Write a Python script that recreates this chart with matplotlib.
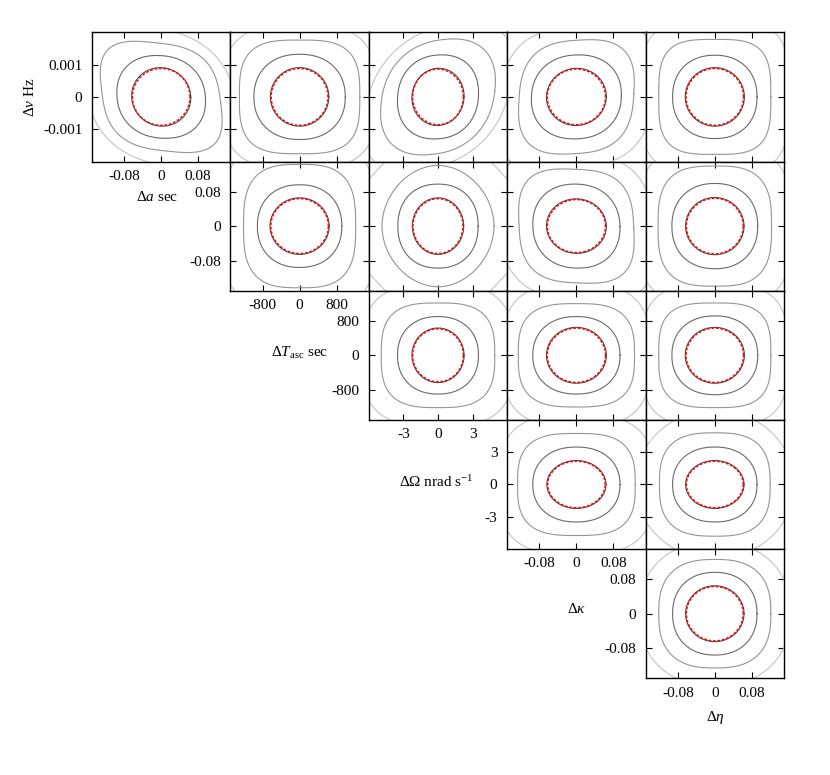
import numpy as np
import matplotlib
matplotlib.use("Agg")
import matplotlib.pyplot as plt

plt.rcParams['font.family'] = ['Liberation Serif', 'DejaVu Serif']
plt.rcParams['font.size'] = 11
plt.rcParams['mathtext.fontset'] = 'custom'
plt.rcParams['mathtext.rm'] = 'Liberation Serif'
plt.rcParams['mathtext.it'] = 'Liberation Serif:italic'
plt.rcParams['axes.unicode_minus'] = False

# parameters: nu, a, T_asc, Omega, kappa, eta
axis_labels = [r'$\Delta\nu$ Hz', r'$\Delta a$ sec', r'$\Delta T_{\rm asc}$ sec',
               r'$\Delta\Omega$ nrad s$^{-1}$', r'$\Delta\kappa$', r'$\Delta\eta$']
half_range = [0.002, 0.15, 1500, 6, 0.15, 0.15]
tick_vals = [[-0.001, 0, 0.001], [-0.08, 0, 0.08], [-800, 0, 800],
             [-3, 0, 3], [-0.08, 0, 0.08], [-0.08, 0, 0.08]]
tick_text = [['-0.001', '0', '0.001'], ['-0.08', '0', '0.08'], ['-800', '0', '800'],
             ['-3', '0', '3'], ['-0.08', '0', '0.08'], ['-0.08', '0', '0.08']]

# panel (row, col): y = parameter row, x = parameter col+1
panels = [(0, 0), (0, 1), (0, 2), (0, 3), (0, 4),
          (1, 1), (1, 2), (1, 3), (1, 4),
          (2, 2), (2, 3), (2, 4),
          (3, 3), (3, 4),
          (4, 4)]

# contour half-widths / half-heights, as fraction of the axis half range
red_w   = [0.415, 0.41, 0.366, 0.42, 0.415, 0.415, 0.36, 0.42, 0.41, 0.366, 0.42, 0.415, 0.415, 0.41, 0.41]
red_h   = [0.44, 0.44, 0.43, 0.43, 0.44, 0.425, 0.425, 0.41, 0.43, 0.41, 0.42, 0.42, 0.36, 0.36, 0.42]
ring2_w = [0.64, 0.66, 0.585, 0.65, 0.61, 0.61, 0.58, 0.63, 0.62, 0.585, 0.63, 0.62, 0.63, 0.61, 0.61]
ring2_h = [0.64, 0.66, 0.65, 0.65, 0.645, 0.64, 0.65, 0.65, 0.66, 0.60, 0.60, 0.61, 0.58, 0.58, 0.64]
ring3_w = [0.86, 0.87, 0.82, 0.83, 0.81, 0.81, 0.81, 0.83, 0.82, 0.82, 0.84, 0.81, 0.85, 0.80, 0.81]
ring3_h = [0.84, 0.88, 0.89, 0.88, 0.89, 0.955, 0.94, 0.88, 0.93, 0.81, 0.80, 0.81, 0.79, 0.80, 0.84]
ring3_p = [3.0, 3.2, 2.3, 2.8, 3.4, 3.0, 1.9, 3.0, 3.0, 3.0, 3.0, 3.2, 3.0, 2.8, 2.6]
ring4_w = [1.12, 1.12, 1.05, 1.12, 1.08, 1.12, 1.45, 1.12, 1.12, 1.1, 1.07, 1.06, 1.12, 1.15, 1.1]
ring4_h = [1.1, 1.12, 1.12, 1.12, 1.2, 1.35, 1.6, 1.15, 1.25, 1.1, 1.1, 1.1, 1.08, 1.15, 1.12]
ring4_p = [3.0, 3.0, 2.4, 3.0, 3.4, 3.0, 1.25, 3.0, 3.0, 3.0, 3.0, 3.2, 3.0, 2.0, 2.2]
tilt    = [-0.16, 0.0, 0.15, 0.08, 0.0, 0.0, 0.0, -0.06, 0.0, 0.0, 0.0, 0.0, 0.0, 0.0, 0.0]

ring_colors = ['#4a4a4a', '#6a6a6a', '#959595', '#c4c4c4']
tilt_share = [0.1, 0.25, 0.7, 1.2]


def ring(w, h, p, t):
    th = np.linspace(0, 2 * np.pi, 361)
    c, s = np.cos(th), np.sin(th)
    x = w * np.sign(c) * np.abs(c) ** (2.0 / p)
    y = h * np.sign(s) * np.abs(s) ** (2.0 / p)
    return x + t * y, y + t * x


fig = plt.figure(figsize=(8.3, 7.75), dpi=100)
W, H = 830.0, 775.0
left0, top0, pw, ph = 92.0, 32.3, 138.4, 129.2

for k, (i, j) in enumerate(panels):
    px = j + 1
    ax = fig.add_axes([(left0 + j * pw) / W, 1 - (top0 + (i + 1) * ph) / H, pw / W, ph / H])
    sx, sy = half_range[px], half_range[i]
    shapes = [
        (red_w[k] * 1.03, red_h[k] * 1.03, 2.0),
        (ring2_w[k], ring2_h[k], 2.2),
        (ring3_w[k], ring3_h[k], ring3_p[k]),
        (ring4_w[k], ring4_h[k], ring4_p[k]),
    ]
    for (w, h, p), col, share in zip(shapes, ring_colors, tilt_share):
        x, y = ring(w, h, p, tilt[k] * share)
        ax.plot(x * sx, y * sy, color=col, lw=0.8)
    x, y = ring(red_w[k], red_h[k], 2.0, 0.0)
    ax.plot(x * sx, y * sy, color='red', lw=1.0, ls=(0, (2.0, 1.2)))

    ax.set_xlim(-sx, sx)
    ax.set_ylim(-sy, sy)
    ax.set_xticks(tick_vals[px])
    ax.set_yticks(tick_vals[i])
    ax.tick_params(direction='in', top=True, right=True, length=4, width=0.8)
    if i == j:
        ax.set_xticklabels(tick_text[px])
        ax.set_yticklabels(tick_text[i])
        ax.tick_params(axis='y', pad=7)
        ax.tick_params(axis='x', pad=6)
    else:
        ax.tick_params(labelbottom=False, labelleft=False)
    for sp in ax.spines.values():
        sp.set_linewidth(1.0)

# axis names
fig.text(30 / W, 1 - 97 / H, axis_labels[0], rotation=90, ha='center', va='center')
label_xy = [(157, 197), (299.5, 353), (436, 482), (576.5, 609), (715, 717)]
for n, (lx, ly) in enumerate(label_xy):
    fig.text(lx / W, 1 - ly / H, axis_labels[n + 1], ha='center', va='center')

fig.savefig('out.png', dpi=100)
